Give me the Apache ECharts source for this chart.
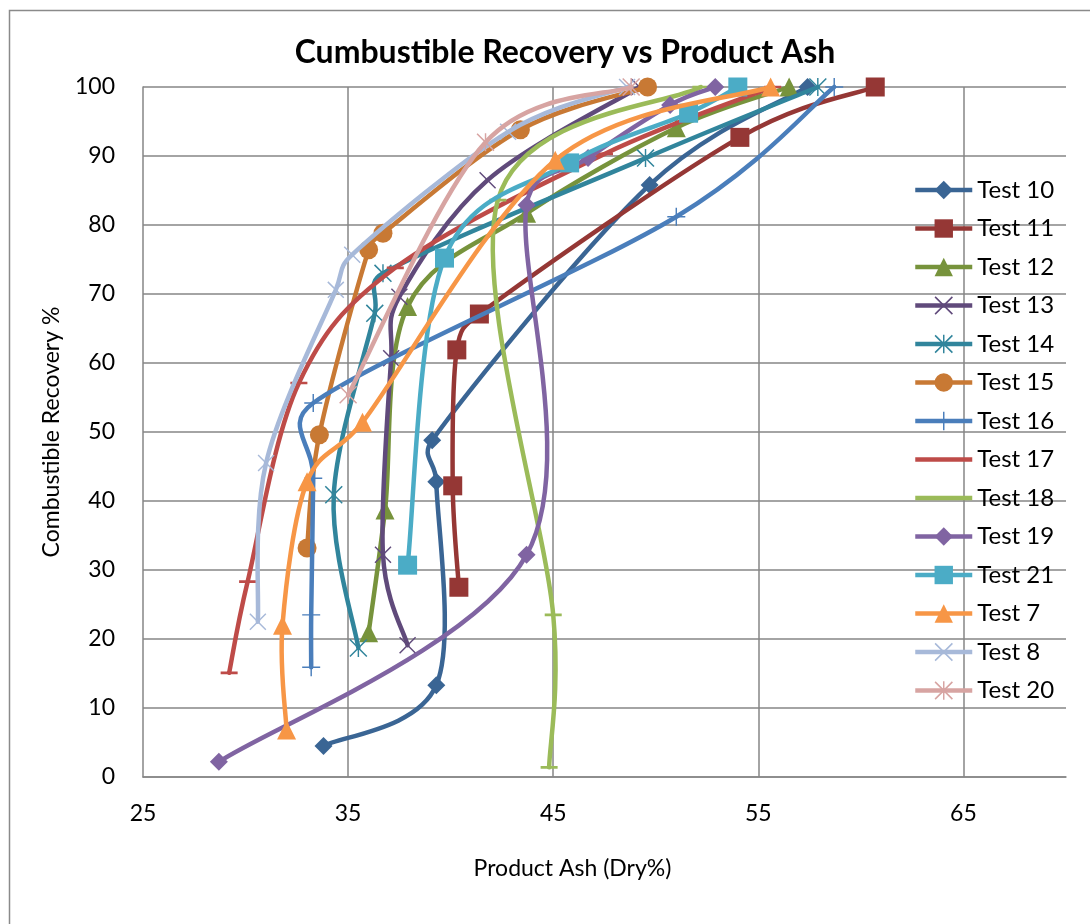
<!DOCTYPE html>
<html><head><meta charset="utf-8">
<script src="https://cdn.jsdelivr.net/npm/echarts@6/dist/echarts.min.js"></script>
<style>html,body{margin:0;padding:0;background:#fff}#c{width:1090px;height:924px}</style>
</head><body><div id="c"></div>
<script>
// ---- data ----
const titleText = 'Cumbustible Recovery vs Product Ash';
const xAxisName = 'Product Ash (Dry%)';
const yAxisName = 'Combustible Recovery %';
const xMin = 25, xMax = 70, xStep = 10;
const yMin = 0, yMax = 100, yStep = 10;

const seriesNames = ['Test 10','Test 11','Test 12','Test 13','Test 14','Test 15','Test 16','Test 17','Test 18','Test 19','Test 21','Test 7','Test 8','Test 20'];

const test10X = [33.8, 39.3, 39.3, 39.1, 49.7, 57.4];
const test10Y = [4.5, 13.3, 42.8, 48.8, 85.8, 100];
const test11X = [40.4, 40.1, 40.3, 41.4, 54.1, 60.7];
const test11Y = [27.5, 42.2, 61.9, 67.1, 92.7, 100];
const test12X = [36.0, 36.8, 37.9, 43.7, 51.0, 56.5];
const test12Y = [20.9, 38.7, 68.2, 81.7, 94.1, 100];
const test13X = [37.9, 36.7, 37.1, 37.5, 41.8, 49.2];
const test13Y = [19.1, 32.2, 60.7, 69.6, 86.5, 100];
const test14X = [35.5, 34.3, 36.3, 36.7, 49.5, 57.9];
const test14Y = [18.7, 40.9, 67.2, 73.0, 89.7, 100];
const test15X = [33.0, 33.6, 36.0, 36.7, 43.4, 49.6];
const test15Y = [33.2, 49.6, 76.4, 78.8, 93.8, 100];
const test16X = [33.2, 33.2, 33.3, 33.3, 51.0, 58.7];
const test16Y = [15.9, 23.5, 43.3, 54.2, 81.2, 100];
const test17X = [29.2, 30.1, 32.6, 37.3, 47.5, 55.7];
const test17Y = [15.1, 28.3, 57.1, 73.8, 90.3, 100];
const test18X = [44.8, 45.0, 42.3, 52.2];
const test18Y = [1.4, 23.5, 83.6, 100];
const test19X = [28.7, 43.7, 43.7, 46.7, 50.7, 52.9];
const test19Y = [2.2, 32.2, 82.9, 89.7, 97.4, 100];
const test21X = [37.9, 39.7, 45.8, 51.6, 54.0];
const test21Y = [30.7, 75.2, 89.0, 96.2, 100];
const test7X = [32.0, 31.8, 33.0, 35.7, 45.1, 55.6];
const test7Y = [6.8, 22.0, 42.8, 51.4, 89.4, 100];
const test8X = [30.6, 31.0, 34.4, 35.2, 42.8, 48.6];
const test8Y = [22.5, 45.5, 70.6, 75.7, 93.5, 100];
const test20X = [35.0, 41.7, 48.8];
const test20Y = [55.4, 92.0, 100];

const allX = [test10X,test11X,test12X,test13X,test14X,test15X,test16X,test17X,test18X,test19X,test21X,test7X,test8X,test20X];
const allY = [test10Y,test11Y,test12Y,test13Y,test14Y,test15Y,test16Y,test17Y,test18Y,test19Y,test21Y,test7Y,test8Y,test20Y];

// ---- styles ----
const SYM_X = 'path://M0,1.2L1.2,0L20,18.8L18.8,20Z M18.8,0L20,1.2L1.2,20L0,18.8Z';
const SYM_STAR = 'path://M0,1.2L1.2,0L20,18.8L18.8,20Z M18.8,0L20,1.2L1.2,20L0,18.8Z M9.2,0L10.8,0L10.8,20L9.2,20Z';
const SYM_PLUS = 'path://M9.2,0L10.8,0L10.8,20L9.2,20Z M0,9.2L20,9.2L20,10.8L0,10.8Z';
const SYM_DASH = 'path://M0,8.4L20,8.4L20,11.6L0,11.6Z M0,0L0.01,0L0,0.01Z M20,20L19.99,20L20,19.99Z';

const styles = [
  {color:'#3A6594', symbol:'diamond', size:18},
  {color:'#953735', symbol:'rect', size:19},
  {color:'#77933C', symbol:'triangle', size:19},
  {color:'#604A7B', symbol:SYM_X, size:17},
  {color:'#31859C', symbol:SYM_STAR, size:18},
  {color:'#C87934', symbol:'circle', size:19},
  {color:'#4A7EBB', symbol:SYM_PLUS, size:18},
  {color:'#BE4B48', symbol:SYM_DASH, size:17},
  {color:'#9BBB59', symbol:SYM_DASH, size:17},
  {color:'#8064A2', symbol:'diamond', size:18},
  {color:'#4BACC6', symbol:'rect', size:19},
  {color:'#F79646', symbol:'triangle', size:19},
  {color:'#A7B9D9', symbol:SYM_X, size:17},
  {color:'#D7A4A2', symbol:SYM_STAR, size:18}
];
const LINE_W = 4.5;
const FONT = 'Lato, "Open Sans", sans-serif';

// Excel-like smoothed path (Catmull-Rom bezier, tension 1/6, capped) in pixel space
function smoothPath(pts) {
  const n = pts.length;
  if (n < 2) return '';
  const f = 1 / 6;
  const dist = (a, b) => Math.hypot(b[0] - a[0], b[1] - a[1]);
  const tan = [];
  for (let i = 0; i < n; i++) {
    const p0 = pts[Math.max(0, i - 1)], p2 = pts[Math.min(n - 1, i + 1)];
    tan.push([(p2[0] - p0[0]) * f, (p2[1] - p0[1]) * f]);
  }
  const cap = (v, maxLen) => {
    const l = Math.hypot(v[0], v[1]);
    if (l > maxLen && l > 0) return [v[0] * maxLen / l, v[1] * maxLen / l];
    return v;
  };
  let d = 'M' + pts[0][0] + ',' + pts[0][1];
  for (let i = 0; i < n - 1; i++) {
    const a = pts[i], b = pts[i + 1];
    const seg = dist(a, b);
    const t1 = cap(tan[i], seg * 0.5);
    const t2 = cap(tan[i + 1], seg * 0.5);
    d += 'C' + (a[0] + t1[0]) + ',' + (a[1] + t1[1]) + ',' +
         (b[0] - t2[0]) + ',' + (b[1] - t2[1]) + ',' + b[0] + ',' + b[1];
  }
  return d;
}

const chart = echarts.init(document.getElementById('c'), null, {renderer:'canvas'});

const series = [];
seriesNames.forEach((name, i) => {
  const data = allX[i].map((x, j) => [x, allY[i][j]]);
  // smoothed curve
  series.push({
    name: '_curve' + i,
    type: 'custom',
    silent: true,
    z: 2 + 2 * i,
    data: data,
    encode: {x: 0, y: 1},
    renderItem: (params, api) => {
      if (params.dataIndex !== 0) return null;
      const pts = data.map(p => api.coord(p));
      return {
        type: 'path',
        shape: {pathData: smoothPath(pts)},
        style: {fill: 'none', stroke: styles[i].color, lineWidth: LINE_W, lineJoin: 'round', lineCap: 'round'}
      };
    }
  });
  // markers (line itself hidden; curve drawn above)
  series.push({
    name: name,
    type: 'line',
    data: data,
    symbol: styles[i].symbol,
    symbolSize: styles[i].size,
    showSymbol: true,
    showAllSymbol: true,
    lineStyle: {color: styles[i].color, width: LINE_W, opacity: 0},
    itemStyle: {color: styles[i].color, borderWidth: 0},
    emphasis: {disabled: true},
    z: 3 + 2 * i
  });
});

chart.setOption({
  animation: false,
  backgroundColor: '#fff',
  title: {
    text: titleText, left: 560, top: 32, textAlign: 'center',
    textStyle: {fontFamily: FONT, fontWeight: 'bold', fontSize: 32, color: '#000'}
  },
  graphic: [{
    type: 'rect', left: 7, top: 8, silent: true, z: -10,
    shape: {width: 1200, height: 1000},
    style: {fill: 'none', stroke: '#8a8a8a', lineWidth: 1.5}
  }],
  grid: {left: 143, right: 24, top: 87, bottom: 147, containLabel: false},
  legend: {
    orient: 'vertical', left: 913, top: 178, padding: 0,
    itemWidth: 57, itemHeight: 23, itemGap: 14.5,
    textStyle: {fontFamily: FONT, fontSize: 24, color: '#000'},
    lineStyle: {width: LINE_W, opacity: 1},
    data: seriesNames
  },
  xAxis: {
    type: 'value', min: xMin, max: xMax, interval: xStep,
    name: xAxisName, nameLocation: 'middle', nameGap: 80,
    nameTextStyle: {fontFamily: FONT, fontSize: 23, color: '#000', padding: [0, 64, 0, 0]},
    axisLine: {show: true, lineStyle: {color: '#868686', width: 1.5}},
    axisTick: {show: false},
    axisLabel: {fontFamily: FONT, fontSize: 23, color: '#000', margin: 25, showMaxLabel: false},
    splitLine: {show: true, showMinLine: false, showMaxLine: false, lineStyle: {color: '#868686', width: 1.5}}
  },
  yAxis: {
    type: 'value', min: yMin, max: yMax, interval: yStep,
    name: yAxisName, nameLocation: 'middle', nameGap: 80,
    nameTextStyle: {fontFamily: FONT, fontSize: 23, color: '#000'},
    axisLine: {show: true, lineStyle: {color: '#868686', width: 1.5}},
    axisTick: {show: false},
    axisLabel: {fontFamily: FONT, fontSize: 23, color: '#000', margin: 28},
    splitLine: {show: true, lineStyle: {color: '#868686', width: 1.5}}
  },
  series: series
});
</script></body></html>
